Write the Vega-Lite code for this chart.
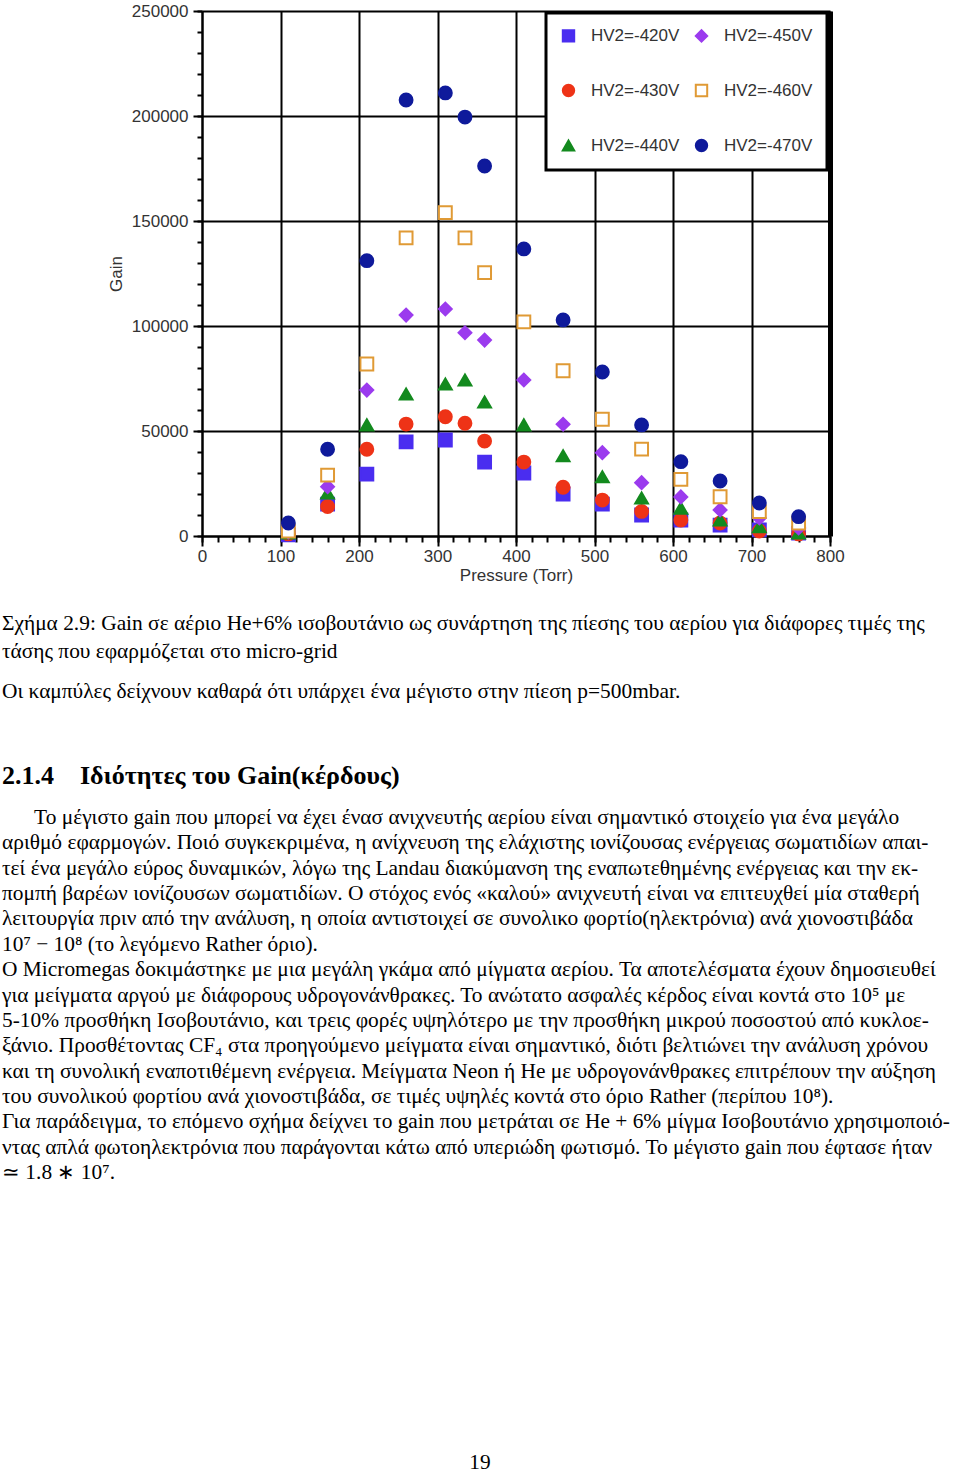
{
  "$schema": "https://vega.github.io/schema/vega-lite/v6.json",
  "background": "white",
  "padding": {"left": 2, "top": 2, "right": 0, "bottom": 0},
  "spacing": 0,
  "config": {"view": {"stroke": null}, "font": "Liberation Sans", "legend": {"strokeWidth": 3, "strokeColor": "black", "fillColor": "white"}},
  "datasets": {
    "points": [
      {"pressure": 110, "gain": 500, "series": "HV2=-420V"},
      {"pressure": 160, "gain": 15200, "series": "HV2=-420V"},
      {"pressure": 210, "gain": 29500, "series": "HV2=-420V"},
      {"pressure": 260, "gain": 44800, "series": "HV2=-420V"},
      {"pressure": 310, "gain": 45700, "series": "HV2=-420V"},
      {"pressure": 360, "gain": 35200, "series": "HV2=-420V"},
      {"pressure": 410, "gain": 30000, "series": "HV2=-420V"},
      {"pressure": 460, "gain": 20000, "series": "HV2=-420V"},
      {"pressure": 510, "gain": 15200, "series": "HV2=-420V"},
      {"pressure": 560, "gain": 10000, "series": "HV2=-420V"},
      {"pressure": 610, "gain": 7600, "series": "HV2=-420V"},
      {"pressure": 660, "gain": 5200, "series": "HV2=-420V"},
      {"pressure": 710, "gain": 2900, "series": "HV2=-420V"},
      {"pressure": 760, "gain": 1400, "series": "HV2=-420V"},
      {"pressure": 110, "gain": 1000, "series": "HV2=-430V"},
      {"pressure": 160, "gain": 14000, "series": "HV2=-430V"},
      {"pressure": 210, "gain": 41300, "series": "HV2=-430V"},
      {"pressure": 260, "gain": 53300, "series": "HV2=-430V"},
      {"pressure": 310, "gain": 56800, "series": "HV2=-430V"},
      {"pressure": 335, "gain": 53700, "series": "HV2=-430V"},
      {"pressure": 360, "gain": 45200, "series": "HV2=-430V"},
      {"pressure": 410, "gain": 35200, "series": "HV2=-430V"},
      {"pressure": 460, "gain": 23200, "series": "HV2=-430V"},
      {"pressure": 510, "gain": 17100, "series": "HV2=-430V"},
      {"pressure": 560, "gain": 11700, "series": "HV2=-430V"},
      {"pressure": 610, "gain": 7600, "series": "HV2=-430V"},
      {"pressure": 660, "gain": 6200, "series": "HV2=-430V"},
      {"pressure": 710, "gain": 2400, "series": "HV2=-430V"},
      {"pressure": 760, "gain": 1000, "series": "HV2=-430V"},
      {"pressure": 110, "gain": 1400, "series": "HV2=-440V"},
      {"pressure": 160, "gain": 20500, "series": "HV2=-440V"},
      {"pressure": 210, "gain": 52900, "series": "HV2=-440V"},
      {"pressure": 260, "gain": 67600, "series": "HV2=-440V"},
      {"pressure": 310, "gain": 72400, "series": "HV2=-440V"},
      {"pressure": 335, "gain": 74300, "series": "HV2=-440V"},
      {"pressure": 360, "gain": 63800, "series": "HV2=-440V"},
      {"pressure": 410, "gain": 52900, "series": "HV2=-440V"},
      {"pressure": 460, "gain": 38200, "series": "HV2=-440V"},
      {"pressure": 510, "gain": 28200, "series": "HV2=-440V"},
      {"pressure": 560, "gain": 18100, "series": "HV2=-440V"},
      {"pressure": 610, "gain": 13300, "series": "HV2=-440V"},
      {"pressure": 660, "gain": 7600, "series": "HV2=-440V"},
      {"pressure": 710, "gain": 4400, "series": "HV2=-440V"},
      {"pressure": 760, "gain": 1400, "series": "HV2=-440V"},
      {"pressure": 110, "gain": 1900, "series": "HV2=-450V"},
      {"pressure": 160, "gain": 23500, "series": "HV2=-450V"},
      {"pressure": 210, "gain": 69500, "series": "HV2=-450V"},
      {"pressure": 260, "gain": 105200, "series": "HV2=-450V"},
      {"pressure": 310, "gain": 108100, "series": "HV2=-450V"},
      {"pressure": 335, "gain": 96800, "series": "HV2=-450V"},
      {"pressure": 360, "gain": 93300, "series": "HV2=-450V"},
      {"pressure": 410, "gain": 74300, "series": "HV2=-450V"},
      {"pressure": 460, "gain": 53200, "series": "HV2=-450V"},
      {"pressure": 510, "gain": 39700, "series": "HV2=-450V"},
      {"pressure": 560, "gain": 25400, "series": "HV2=-450V"},
      {"pressure": 610, "gain": 18600, "series": "HV2=-450V"},
      {"pressure": 660, "gain": 12400, "series": "HV2=-450V"},
      {"pressure": 710, "gain": 8600, "series": "HV2=-450V"},
      {"pressure": 760, "gain": 3800, "series": "HV2=-450V"},
      {"pressure": 110, "gain": 2400, "series": "HV2=-460V"},
      {"pressure": 160, "gain": 29000, "series": "HV2=-460V"},
      {"pressure": 210, "gain": 81900, "series": "HV2=-460V"},
      {"pressure": 260, "gain": 142000, "series": "HV2=-460V"},
      {"pressure": 310, "gain": 154000, "series": "HV2=-460V"},
      {"pressure": 335, "gain": 142000, "series": "HV2=-460V"},
      {"pressure": 360, "gain": 125400, "series": "HV2=-460V"},
      {"pressure": 410, "gain": 102000, "series": "HV2=-460V"},
      {"pressure": 460, "gain": 78700, "series": "HV2=-460V"},
      {"pressure": 510, "gain": 55600, "series": "HV2=-460V"},
      {"pressure": 560, "gain": 41400, "series": "HV2=-460V"},
      {"pressure": 610, "gain": 27000, "series": "HV2=-460V"},
      {"pressure": 660, "gain": 18700, "series": "HV2=-460V"},
      {"pressure": 710, "gain": 11600, "series": "HV2=-460V"},
      {"pressure": 760, "gain": 6200, "series": "HV2=-460V"},
      {"pressure": 110, "gain": 6200, "series": "HV2=-470V"},
      {"pressure": 160, "gain": 41300, "series": "HV2=-470V"},
      {"pressure": 210, "gain": 131100, "series": "HV2=-470V"},
      {"pressure": 260, "gain": 207600, "series": "HV2=-470V"},
      {"pressure": 310, "gain": 211000, "series": "HV2=-470V"},
      {"pressure": 335, "gain": 199500, "series": "HV2=-470V"},
      {"pressure": 360, "gain": 176200, "series": "HV2=-470V"},
      {"pressure": 410, "gain": 136700, "series": "HV2=-470V"},
      {"pressure": 460, "gain": 102900, "series": "HV2=-470V"},
      {"pressure": 510, "gain": 78100, "series": "HV2=-470V"},
      {"pressure": 560, "gain": 52900, "series": "HV2=-470V"},
      {"pressure": 610, "gain": 35400, "series": "HV2=-470V"},
      {"pressure": 660, "gain": 26200, "series": "HV2=-470V"},
      {"pressure": 710, "gain": 15700, "series": "HV2=-470V"},
      {"pressure": 760, "gain": 9200, "series": "HV2=-470V"}
    ],
    "lines": [
      {"block": "caption", "line": 1, "text": "Σχήμα 2.9: Gain σε αέριο He+6% ισοβουτάνιο ως συνάρτηση της πίεσης του αερίου για διάφορες τιμές της"},
      {"block": "caption", "line": 2, "text": "τάσης που εφαρμόζεται στο micro-grid"},
      {"block": "sentence", "line": 1, "text": "Οι καμπύλες δείχνουν καθαρά ότι υπάρχει ένα μέγιστο στην πίεση p=500mbar."},
      {"block": "heading", "line": 1, "text": "2.1.4\u00a0\u00a0\u00a0\u00a0Ιδιότητες του Gain(κέρδους)"},
      {"block": "body", "line": 1, "text": "\u200b\u00a0\u00a0\u00a0\u00a0\u00a0\u00a0Το μέγιστο gain που μπορεί να έχει ένασ ανιχνευτής αερίου είναι σημαντικό στοιχείο για ένα μεγάλο"},
      {"block": "body", "line": 2, "text": "αριθμό εφαρμογών. Ποιό συγκεκριμένα, η ανίχνευση της ελάχιστης ιονίζουσας ενέργειας σωματιδίων απαι-"},
      {"block": "body", "line": 3, "text": "τεί ένα μεγάλο εύρος δυναμικών, λόγω της Landau διακύμανση της εναπωτεθημένης ενέργειας και την εκ-"},
      {"block": "body", "line": 4, "text": "πομπή βαρέων ιονίζουσων σωματιδίων. Ο στόχος ενός «καλού» ανιχνευτή είναι να επιτευχθεί μία σταθερή"},
      {"block": "body", "line": 5, "text": "λειτουργία πριν από την ανάλυση, η οποία αντιστοιχεί σε συνολικο φορτίο(ηλεκτρόνια) ανά χιονοστιβάδα"},
      {"block": "body", "line": 6, "text": "10⁷ − 10⁸ (το λεγόμενο Rather όριο)."},
      {"block": "body", "line": 7, "text": "Ο Micromegas δοκιμάστηκε με μια μεγάλη γκάμα από μίγματα αερίου. Τα αποτελέσματα έχουν δημοσιευθεί"},
      {"block": "body", "line": 8, "text": "για μείγματα αργού με διάφορους υδρογονάνθρακες. Το ανώτατο ασφαλές κέρδος είναι κοντά στο 10⁵ με"},
      {"block": "body", "line": 9, "text": "5-10% προσθήκη Ισοβουτάνιο, και τρεις φορές υψηλότερο με την προσθήκη μικρού ποσοστού από κυκλοε-"},
      {"block": "body", "line": 10, "text": "ξάνιο. Προσθέτοντας CF₄ στα προηγούμενο μείγματα είναι σημαντικό, διότι βελτιώνει την ανάλυση χρόνου"},
      {"block": "body", "line": 11, "text": "και τη συνολική εναποτιθέμενη ενέργεια. Μείγματα Neon ή He με υδρογονάνθρακες επιτρέπουν την αύξηση"},
      {"block": "body", "line": 12, "text": "του συνολικού φορτίου ανά χιονοστιβάδα, σε τιμές υψηλές κοντά στο όριο Rather (περίπου 10⁸)."},
      {"block": "body", "line": 13, "text": "Για παράδειγμα, το επόμενο σχήμα δείχνει το gain που μετράται σε He + 6% μίγμα Ισοβουτάνιο χρησιμοποιό-"},
      {"block": "body", "line": 14, "text": "ντας απλά φωτοηλεκτρόνια που παράγονται κάτω από υπεριώδη φωτισμό. Το μέγιστο gain που έφτασε ήταν"},
      {"block": "body", "line": 15, "text": "≃ 1.8 ∗ 10⁷."},
      {"block": "page", "line": 1, "text": "19"}
    ]
  },
  "vconcat": [
    {
      "width": 628,
      "height": 525,
      "data": {"name": "points"},
      "layer": [
        {
          "mark": {"type": "point", "opacity": 0},
          "encoding": {
            "x": {"field": "pressure", "type": "quantitative", "scale": {"domain": [0, 800], "nice": false, "zero": false},
              "axis": {"orient": "bottom", "values": [0,20,40,60,80,100,120,140,160,180,200,220,240,260,280,300,320,340,360,380,400,420,440,460,480,500,520,540,560,580,600,620,640,660,680,700,720,740,760,780,800], "labels": false, "grid": false, "domain": false, "ticks": true, "tickSize": 6, "tickWidth": 2, "tickColor": "black", "title": null}},
            "y": {"field": "gain", "type": "quantitative", "scale": {"domain": [0, 250000], "nice": false},
              "axis": {"orient": "left", "values": [0,10000,20000,30000,40000,50000,60000,70000,80000,90000,100000,110000,120000,130000,140000,150000,160000,170000,180000,190000,200000,210000,220000,230000,240000,250000], "labels": false, "grid": false, "domain": false, "ticks": true, "tickSize": 5, "tickWidth": 2, "tickColor": "black", "title": null}}
          }
        },
        {
          "mark": {"type": "point", "opacity": 0},
          "encoding": {
            "x": {"field": "pressure", "type": "quantitative", "axis": null},
            "y": {"field": "gain", "type": "quantitative",
              "axis": {"orient": "right", "values": [0, 250000], "labels": false, "grid": false, "ticks": false, "domain": true, "domainWidth": 5, "domainColor": "black", "title": null}}
          }
        },
        {
          "mark": {"type": "point", "filled": true, "opacity": 1, "size": 165, "strokeWidth": 2},
          "encoding": {
            "x": {"field": "pressure", "type": "quantitative",
              "axis": {"orient": "bottom", "values": [0,100,200,300,400,500,600,700,800], "format": "d", "grid": true, "gridColor": "black", "gridWidth": 2, "gridOpacity": 1, "domain": true, "domainColor": "black", "domainWidth": 2, "ticks": true, "tickColor": "black", "tickWidth": 2, "tickSize": 10, "labelFont": "Liberation Sans", "labelFontSize": 17, "labelColor": "#333333", "labelPadding": 2, "labelFlush": false, "labelOverlap": false, "title": "Pressure (Torr)", "titleFont": "Liberation Sans", "titleFontSize": 17, "titleFontWeight": "normal", "titleColor": "#333333", "titlePadding": 3}},
            "y": {"field": "gain", "type": "quantitative",
              "axis": {"orient": "left", "values": [0,50000,100000,150000,200000,250000], "format": "d", "grid": true, "gridColor": "black", "gridWidth": 2, "gridOpacity": 1, "domain": true, "domainColor": "black", "domainWidth": 2, "ticks": true, "tickColor": "black", "tickWidth": 2, "tickSize": 9, "labelFont": "Liberation Sans", "labelFontSize": 17, "labelColor": "#333333", "labelPadding": 5, "labelOverlap": false, "title": "Gain", "titleFont": "Liberation Sans", "titleFontSize": 17, "titleFontWeight": "normal", "titleColor": "#333333", "titlePadding": 6}},
            "shape": {"field": "series", "type": "nominal",
              "scale": {"domain": ["HV2=-420V","HV2=-430V","HV2=-440V","HV2=-450V","HV2=-460V","HV2=-470V"], "range": ["square","circle","triangle-up","diamond","square","circle"]},
              "legend": {"title": null, "orient": "none", "legendX": 344, "legendY": 2, "columns": 2, "padding": 14, "rowPadding": 34, "columnPadding": 11, "symbolSize": 130, "symbolStrokeWidth": 2, "labelOffset": 14, "labelFont": "Liberation Sans", "labelFontSize": 17, "labelColor": "#333333"}},
            "fill": {"field": "series", "type": "nominal",
              "scale": {"domain": ["HV2=-420V","HV2=-430V","HV2=-440V","HV2=-450V","HV2=-460V","HV2=-470V"], "range": ["#4A2DF0","#EE3317","#138A1E","#9B3BEE","white","#0F1A9B"]},
              "legend": {"title": null, "orient": "none", "legendX": 344, "legendY": 2, "columns": 2, "padding": 14, "rowPadding": 34, "columnPadding": 11, "symbolSize": 130, "symbolStrokeWidth": 2, "labelOffset": 14, "labelFont": "Liberation Sans", "labelFontSize": 17, "labelColor": "#333333"}},
            "stroke": {"field": "series", "type": "nominal",
              "scale": {"domain": ["HV2=-420V","HV2=-430V","HV2=-440V","HV2=-450V","HV2=-460V","HV2=-470V"], "range": ["#4A2DF0","#EE3317","#138A1E","#9B3BEE","#E09A35","#0F1A9B"]},
              "legend": {"title": null, "orient": "none", "legendX": 344, "legendY": 2, "columns": 2, "padding": 14, "rowPadding": 34, "columnPadding": 11, "symbolSize": 130, "symbolStrokeWidth": 2, "labelOffset": 14, "labelFont": "Liberation Sans", "labelFontSize": 17, "labelColor": "#333333"}}
          }
        }
      ],
      "resolve": {"axis": {"x": "independent", "y": "independent"}}
    },
    {
      "width": 756,
      "height": 83,
      "data": {"name": "lines"},
      "transform": [{"filter": "datum.block === 'caption'"}],
      "mark": {"type": "text", "align": "left", "baseline": "middle", "font": "Liberation Serif", "fontSize": 21.4, "color": "black"},
      "encoding": {
        "text": {"field": "text"},
        "x": {"field": "block", "type": "nominal", "axis": null, "scale": {"type": "point", "range": [-200, 756], "padding": 0, "align": 0}},
        "y": {"field": "line", "type": "ordinal", "axis": null, "scale": {"type": "point", "padding": 1.16, "align": 0.741, "round": false}}
      }
    },
    {
      "width": 756,
      "height": 55,
      "data": {"name": "lines"},
      "transform": [{"filter": "datum.block === 'sentence'"}],
      "mark": {"type": "text", "align": "left", "baseline": "middle", "font": "Liberation Serif", "fontSize": 21.4, "color": "black"},
      "encoding": {
        "text": {"field": "text"},
        "x": {"field": "block", "type": "nominal", "axis": null, "scale": {"type": "point", "range": [-200, 756], "padding": 0, "align": 0}},
        "y": {"field": "block", "type": "nominal", "axis": null, "scale": {"type": "point", "padding": 0, "align": 0.47, "round": false}}
      }
    },
    {
      "width": 756,
      "height": 80,
      "data": {"name": "lines"},
      "transform": [{"filter": "datum.block === 'heading'"}],
      "mark": {"type": "text", "align": "left", "baseline": "middle", "font": "Liberation Serif", "fontSize": 26, "fontWeight": "bold", "color": "black"},
      "encoding": {
        "text": {"field": "text"},
        "x": {"field": "block", "type": "nominal", "axis": null, "scale": {"type": "point", "range": [-200, 756], "padding": 0, "align": 0}},
        "y": {"field": "block", "type": "nominal", "axis": null, "scale": {"type": "point", "padding": 0, "align": 0.69, "round": false}}
      }
    },
    {
      "width": 756,
      "height": 392,
      "data": {"name": "lines"},
      "transform": [{"filter": "datum.block === 'body'"}],
      "mark": {"type": "text", "align": "left", "baseline": "middle", "font": "Liberation Serif", "fontSize": 21.4, "color": "black"},
      "encoding": {
        "text": {"field": "text"},
        "x": {"field": "block", "type": "nominal", "axis": null, "scale": {"type": "point", "range": [-200, 756], "padding": 0, "align": 0}},
        "y": {"field": "line", "type": "ordinal", "axis": null, "scale": {"type": "point", "padding": 0.729, "align": 0.46, "round": false}}
      }
    },
    {
      "width": 756,
      "height": 281,
      "data": {"name": "lines"},
      "transform": [{"filter": "datum.block === 'page'"}],
      "mark": {"type": "text", "align": "center", "baseline": "middle", "font": "Liberation Serif", "fontSize": 21.4, "color": "black"},
      "encoding": {
        "text": {"field": "text"},
        "x": {"field": "block", "type": "nominal", "axis": null, "scale": {"type": "point", "range": [-200, 756], "padding": 0, "align": 0.5}},
        "y": {"field": "block", "type": "nominal", "axis": null, "scale": {"type": "point", "padding": 0, "align": 0.961, "round": false}}
      }
    }
  ]
}
